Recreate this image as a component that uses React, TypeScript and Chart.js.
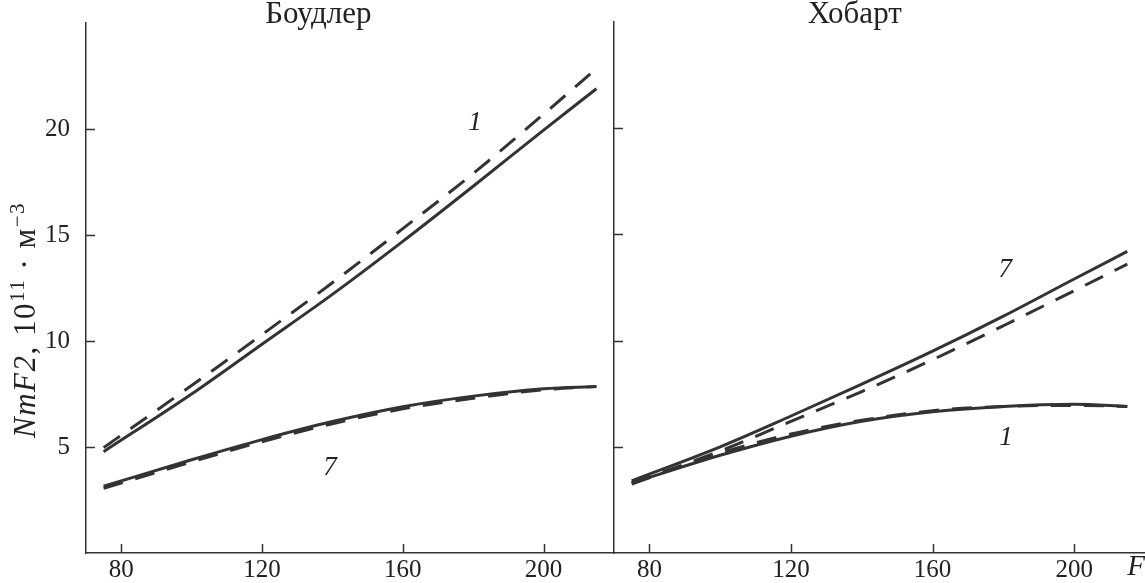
import React, { useEffect, useRef } from 'react';
import { Chart, registerables } from 'chart.js';
Chart.register(...registerables);

// ---- data ----
const xValues = [75, 100, 120, 140, 160, 180, 200, 215];

const boulderSolid1 = [4.78, 7.5, 9.85, 12.2, 14.7, 17.3, 19.95, 21.9];
const boulderDashed1 = [4.97, 7.9, 10.3, 12.75, 15.3, 17.9, 20.7, 22.85];
const boulderSolid7 = [3.15, 4.4, 5.35, 6.2, 6.9, 7.4, 7.75, 7.85];
const boulderDashed7 = [3.05, 4.3, 5.25, 6.1, 6.8, 7.3, 7.7, 7.85];

const hobartSolid7 = [3.4, 5.0, 6.45, 7.95, 9.5, 11.15, 12.9, 14.2];
const hobartDashed7 = [3.3, 4.8, 6.2, 7.6, 9.1, 10.7, 12.35, 13.6];
const hobartSolid1 = [3.3, 4.6, 5.5, 6.2, 6.65, 6.9, 7.0, 6.9];
const hobartDashed1 = [3.25, 4.7, 5.6, 6.25, 6.7, 6.9, 6.95, 6.9];

const xTicks = [80, 120, 160, 200];
const yTicks = [5, 10, 15, 20];
const xRange = [70, 220];
const yRange = [0, 25];

const panelTitles = ['Боудлер', 'Хобарт'];
const yTitleParts = ['NmF2', ', 10', '11', ' · м', '−3'];
const xAxisLabel = 'F';

// curve labels: [text, x, y]
const boulderLabels: [string, number, number][] = [['1', 180.5, 20.3], ['7', 139.3, 4.0]];
const hobartLabels: [string, number, number][] = [['7', 180.5, 13.35], ['1', 180.7, 5.4]];

const INK = '#333333';
const SERIF = '"Liberation Serif", "Times New Roman", serif';
const TICK_SIZE = 25;

function toPoints(ys: number[]) {
  return xValues.map((x, i) => ({ x, y: ys[i] }));
}

function ds(label: string, ys: number[], dashed: boolean) {
  return {
    label,
    data: toPoints(ys),
    borderColor: INK,
    borderWidth: 3,
    borderDash: dashed ? [20, 13] : [],
    pointRadius: 0,
    fill: false,
    cubicInterpolationMode: 'monotone' as const,
  };
}

function makePlugin(opts: { title: string; titleX: number; labels: [string, number, number][]; showYTitle: boolean; showF: boolean }) {
  return {
    id: 'decor',
    afterDraw(chart: any) {
      const { ctx, chartArea } = chart;
      const xs = chart.scales.x;
      const ys = chart.scales.y;
      ctx.save();
      ctx.strokeStyle = INK;
      ctx.lineWidth = 1.5;
      // inward ticks
      ctx.beginPath();
      yTicks.forEach((v) => {
        const py = Math.round(ys.getPixelForValue(v)) + 0.5;
        ctx.moveTo(chartArea.left, py);
        ctx.lineTo(chartArea.left + 9, py);
      });
      xTicks.forEach((v) => {
        const px = Math.round(xs.getPixelForValue(v)) + 0.5;
        ctx.moveTo(px, chartArea.bottom);
        ctx.lineTo(px, chartArea.bottom - 9);
      });
      ctx.stroke();

      ctx.fillStyle = '#222';
      // panel title
      ctx.font = `31px ${SERIF}`;
      ctx.textAlign = 'center';
      ctx.textBaseline = 'middle';
      ctx.fillText(opts.title, xs.getPixelForValue(opts.titleX), 15);

      // curve labels
      ctx.font = `italic 27px ${SERIF}`;
      opts.labels.forEach(([t, x, y]) => {
        ctx.fillText(t, xs.getPixelForValue(x), ys.getPixelForValue(y));
      });

      if (opts.showF) {
        ctx.font = `italic 29px ${SERIF}`;
        ctx.textAlign = 'center';
        ctx.fillText(xAxisLabel, chartArea.right - 9, 567);
      }

      if (opts.showYTitle) {
        const fMain = `31px ${SERIF}`;
        const fIt = `italic 31px ${SERIF}`;
        const fSup = `21px ${SERIF}`;
        const fonts = [fIt, fMain, fSup, fMain, fSup];
        (ctx as any).letterSpacing = '1.5px';
        const widths = yTitleParts.map((p, i) => {
          ctx.font = fonts[i];
          return ctx.measureText(p).width;
        });
        const total = widths.reduce((a, b) => a + b, 0);
        ctx.translate(25, 320);
        ctx.rotate(-Math.PI / 2);
        ctx.textAlign = 'left';
        ctx.textBaseline = 'alphabetic';
        let cx = -total / 2;
        yTitleParts.forEach((p, i) => {
          ctx.font = fonts[i];
          const sup = i === 2 || i === 4;
          ctx.fillText(p, cx, sup ? -1 : 10);
          cx += widths[i];
        });
      }
      ctx.restore();
    },
  };
}

function baseScales(showYLabels: boolean, yWidth: number) {
  return {
    x: {
      type: 'linear' as const,
      min: xRange[0],
      max: xRange[1],
      grid: { display: false },
      border: { display: true, color: INK, width: 1.5 },
      afterBuildTicks: (s: any) => {
        s.ticks = xTicks.map((v) => ({ value: v }));
      },
      afterFit: (s: any) => {
        s.height = 30;
      },
      ticks: {
        color: '#222',
        font: { family: SERIF, size: TICK_SIZE, lineHeight: 1 },
        padding: -3,
        maxRotation: 0,
        autoSkip: false,
      },
    },
    y: {
      type: 'linear' as const,
      min: yRange[0],
      max: yRange[1],
      grid: { display: false },
      border: { display: true, color: INK, width: 1.5 },
      afterBuildTicks: (s: any) => {
        s.ticks = yTicks.map((v) => ({ value: v }));
      },
      afterFit: (s: any) => {
        s.width = yWidth;
      },
      ticks: {
        display: showYLabels,
        color: '#222',
        font: { family: SERIF, size: TICK_SIZE },
        padding: 8,
      },
    },
  };
}

function Panel(props: { left: number; width: number; datasets: any[]; yWidth: number; showYLabels: boolean; plugin: any }) {
  const ref = useRef<HTMLCanvasElement | null>(null);
  useEffect(() => {
    if (!ref.current) return;
    const chart = new Chart(ref.current, {
      type: 'line',
      data: { datasets: props.datasets },
      options: {
        animation: false,
        responsive: false,
        devicePixelRatio: 1,
        layout: { padding: { top: 22, left: 0, right: 0, bottom: 0 } },
        plugins: { legend: { display: false }, tooltip: { enabled: false }, title: { display: false } },
        scales: baseScales(props.showYLabels, props.yWidth) as any,
      },
      plugins: [props.plugin],
    });
    return () => chart.destroy();
  }, []);
  return (
    <canvas
      ref={ref}
      width={props.width}
      height={583}
      style={{ position: 'absolute', left: props.left, top: 0, width: props.width, height: 583 }}
    />
  );
}

export default function App() {
  const leftSets = [
    ds('Боудлер 1', boulderSolid1, false),
    ds('Боудлер 1 (пункт.)', boulderDashed1, true),
    ds('Боудлер 7', boulderSolid7, false),
    ds('Боудлер 7 (пункт.)', boulderDashed7, true),
  ];
  const rightSets = [
    ds('Хобарт 7', hobartSolid7, false),
    ds('Хобарт 7 (пункт.)', hobartDashed7, true),
    ds('Хобарт 1', hobartSolid1, false),
    ds('Хобарт 1 (пункт.)', hobartDashed1, true),
  ];
  return (
    <div style={{ position: 'absolute', left: 0, top: 0, width: 1145, height: 583, background: '#fff', overflow: 'hidden' }}>
      <Panel
        left={0}
        width={614}
        datasets={leftSets}
        yWidth={86}
        showYLabels={true}
        plugin={makePlugin({ title: panelTitles[0], titleX: 136, labels: boulderLabels, showYTitle: true, showF: false })}
      />
      <Panel
        left={612}
        width={533}
        datasets={rightSets}
        yWidth={2}
        showYLabels={false}
        plugin={makePlugin({ title: panelTitles[1], titleX: 138, labels: hobartLabels, showYTitle: false, showF: true })}
      />
    </div>
  );
}
